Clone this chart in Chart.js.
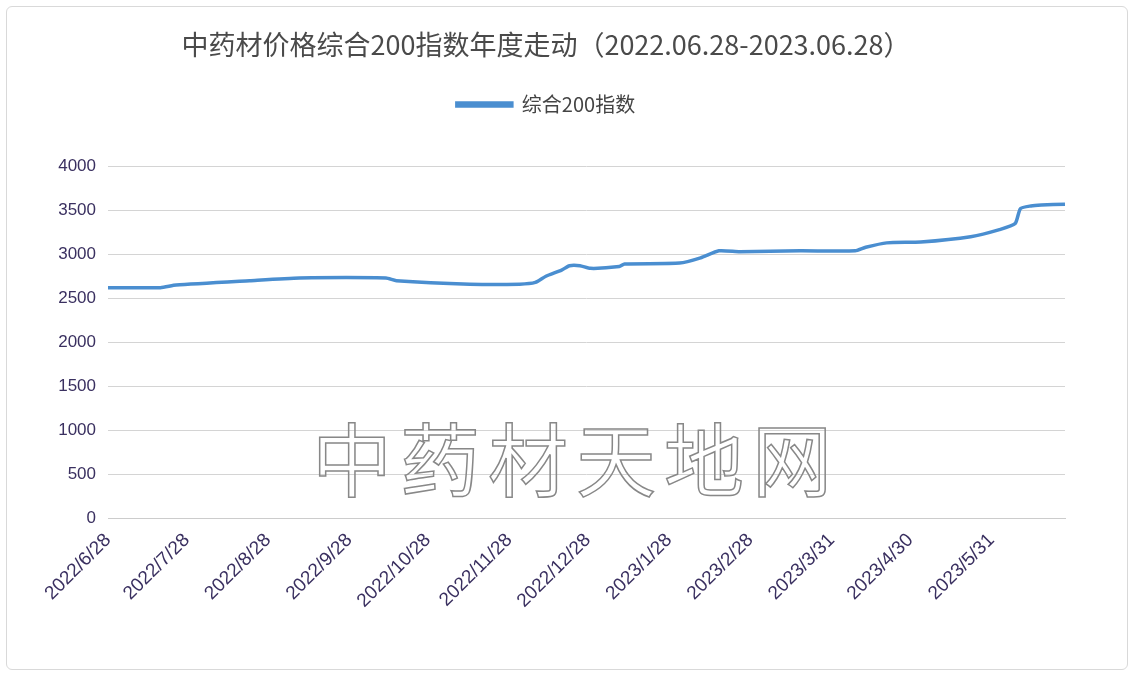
<!DOCTYPE html>
<html>
<head>
<meta charset="utf-8">
<script src="https://cdn.jsdelivr.net/npm/chart.js@4"></script>
<style>
  body { margin: 0; background: #fff; font-family: "Noto Sans CJK SC", "Noto Sans", sans-serif; }
  #wrap { position: relative; width: 1122px; height: 664px; margin: 6px; border: 1px solid #d9d9d9; border-radius: 6px; box-sizing: border-box; }
  #mark { position: absolute; left: 305px; top: 390px; font-size: 80px; color: transparent; -webkit-text-stroke: 1.5px #888; letter-spacing: 8px; pointer-events: none; }
</style>
</head>
<body>
<div id="wrap">
  <canvas id="chart" width="1120" height="662"></canvas>
  <div id="mark">中药材天地网</div>
</div>
<script>
// days since 2022/6/28
const tickDays = [0, 30, 61, 92, 122, 153, 183, 214, 245, 276, 306, 337];
const tickLabels = ['2022/6/28', '2022/7/28', '2022/8/28', '2022/9/28', '2022/10/28', '2022/11/28',
  '2022/12/28', '2023/1/28', '2023/2/28', '2023/3/31', '2023/4/30', '2023/5/31'];

const pointDays = [0, 20, 26, 54, 73, 106, 110, 138, 157, 163, 167, 173, 176, 180, 184, 195, 197,
  218, 226, 233, 241, 264, 285, 289, 297, 310, 329, 340, 346, 348, 352, 356, 365];
const pointValues = [2620, 2620, 2650, 2700, 2730, 2730, 2700, 2660, 2660, 2680, 2750, 2820, 2870,
  2870, 2840, 2860, 2890, 2900, 2960, 3040, 3030, 3040, 3040, 3080, 3130, 3140, 3200, 3280, 3350,
  3520, 3550, 3560, 3570];

const data = pointDays.map((d, i) => ({ x: d, y: pointValues[i] }));

// extra space between legend and plot
const legendGap = {
  id: 'legendGap',
  beforeInit(chart) {
    const fit = chart.legend.fit;
    chart.legend.fit = function () { fit.call(this); this.height += 42; };
  }
};

new Chart(document.getElementById('chart'), {
  type: 'line',
  data: {
    datasets: [{
      label: '综合200指数',
      data: data,
      borderColor: '#4a8ed0',
      backgroundColor: '#4a8ed0',
      borderWidth: 3.5,
      pointRadius: 0,
      tension: 0.2
    }]
  },
  options: {
    responsive: false,
    animation: false,
    layout: { padding: { left: 20, right: 62, top: 0, bottom: 10 } },
    plugins: {
      title: {
        display: true,
        text: '中药材价格综合200指数年度走动（2022.06.28-2023.06.28）',
        color: '#4a4a4a',
        font: { size: 27, family: '"Noto Sans CJK SC"', weight: 'normal' },
        padding: { top: 22, bottom: 25 }
      },
      legend: {
        labels: {
          color: '#444',
          font: { size: 20, family: '"Noto Sans CJK SC"' },
          boxWidth: 55, boxHeight: 3,
          padding: 8
        }
      }
    },
    scales: {
      x: {
        type: 'linear',
        min: 0, max: 365,
        afterBuildTicks: (axis) => { axis.ticks = tickDays.map(v => ({ value: v })); },
        afterFit: (axis) => { axis.height = 141; },
        ticks: {
          autoSkip: false,
          maxRotation: 45, minRotation: 45,
          color: '#3a3060',
          font: { size: 19, family: 'Liberation Sans' },
          callback: (v) => tickLabels[tickDays.indexOf(v)]
        },
        grid: { display: false },
        border: { color: '#ccc' }
      },
      y: {
        min: 0, max: 4000,
        afterFit: (axis) => { axis.width = 81; },
        ticks: { stepSize: 500, color: '#3a3060', font: { size: 17, family: 'Liberation Sans' }, padding: 12,
          callback: (v) => String(v) },
        grid: { color: '#d4d4d4', drawTicks: false },
        border: { display: false }
      }
    }
  },
  plugins: [legendGap]
});
</script>
</body>
</html>
